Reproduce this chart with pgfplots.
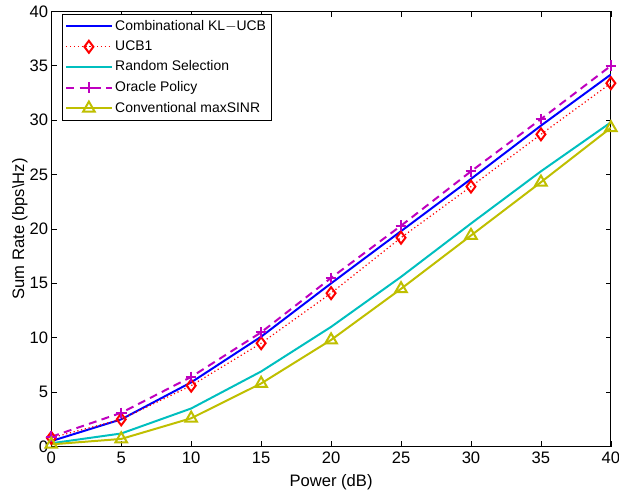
\documentclass[border={5pt 0pt -5pt 0pt}]{standalone}
\usepackage{fontspec}
\setmainfont{Liberation Sans}
\usepackage{pgfplots}
\pgfplotsset{compat=1.18}

\definecolor{mblue}{rgb}{0,0,1}
\definecolor{mred}{rgb}{1,0,0}
\definecolor{mcyan}{rgb}{0,0.75,0.75}
\definecolor{mmag}{rgb}{0.75,0,0.75}
\definecolor{myel}{rgb}{0.75,0.75,0}

\begin{document}
\fontsize{12.5}{15}\selectfont
\begin{tikzpicture}
\begin{axis}[
    scale only axis,
    width=421.5pt,
    height=327.75pt,
    xmin=0, xmax=40,
    ymin=0, ymax=40,
    xtick={0,5,...,40},
    ytick={0,5,...,40},
    tick align=inside,
    major tick length=4pt,
    tick style={black, line width=0.5pt},
    axis line style={line width=0.6pt},
    /pgf/number format/assume math mode=true,
    xlabel={Power (dB)},
    ylabel={Sum Rate (bps\textbackslash Hz)},
    xlabel style={yshift=1pt},
    ylabel style={yshift=-7pt},
    xticklabel style={yshift=0pt},
    yticklabel style={xshift=2pt},
    legend cell align=left,
    legend style={at={(0.0196,0.993)}, anchor=north west, draw=black,
        line width=0.5pt, font=\fontsize{10.5}{12.5}\selectfont,
        row sep=2pt, inner xsep=2pt, inner ysep=2pt},
    legend image code/.code={
        \draw[mark repeat=2,mark phase=2] plot coordinates {(0cm,0cm) (0.6cm,0cm) (1.2cm,0cm)};},
]
\addplot[mblue, line width=1.5pt] coordinates {
(0,0.5) (5,2.5) (10,5.9) (15,10.1) (20,15.0) (25,19.8) (30,24.6) (35,29.5) (40,34.2)};
\addplot[mred, line width=0.9pt, dotted, mark=diamond, mark size=4.5pt,
    mark options={solid, line width=1.5pt, fill=none}] coordinates {
(0,0.8) (5,2.5) (10,5.6) (15,9.5) (20,14.1) (25,19.2) (30,23.9) (35,28.7) (40,33.4)};
\addplot[mcyan, line width=1.5pt] coordinates {
(0,0.3) (5,1.2) (10,3.5) (15,6.9) (20,11.0) (25,15.6) (30,20.5) (35,25.3) (40,29.8)};
\addplot[mmag, line width=1.5pt, dash pattern=on 6pt off 4pt, mark=+, mark size=4pt,
    mark options={solid, line width=1.5pt}] coordinates {
(0,0.9) (5,3.1) (10,6.4) (15,10.5) (20,15.5) (25,20.3) (30,25.3) (35,30.1) (40,35.0)};
\addplot[myel, line width=1.5pt, mark=triangle, mark size=5pt,
    mark options={solid, line width=1.5pt, fill=none}] coordinates {
(0,0.2) (5,0.7) (10,2.6) (15,5.8) (20,9.8) (25,14.5) (30,19.4) (35,24.3) (40,29.3)};
\legend{Combinational KL$-$UCB, UCB1, Random Selection, Oracle Policy, Conventional maxSINR}
\end{axis}
\end{tikzpicture}
\end{document}
